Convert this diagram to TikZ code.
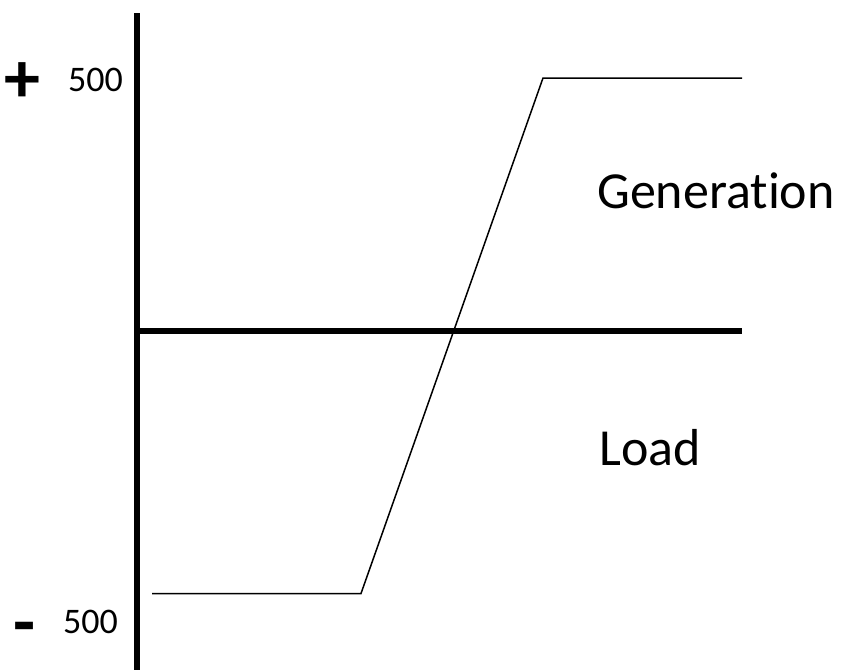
\documentclass[tikz,border=0pt]{standalone}
\usepackage{fontspec}
\setmainfont{Carlito}[Ligatures=NoCommon]
\begin{document}
\begin{tikzpicture}[x=1pt,y=-1pt,
    axis/.style={line width=6pt},
    curve/.style={line width=1.5pt},
    tick/.style={font=\fontsize{36}{40}\selectfont,anchor=base west,inner sep=0pt},
    sign/.style={font=\bfseries\fontsize{72}{80}\selectfont,inner sep=0pt},
    region/.style={font=\fontsize{52}{60}\selectfont,anchor=base west,inner sep=0pt}]
  \useasboundingbox (0,0) rectangle (842,670);
  \draw[axis] (137,13) -- (137,670);
  \draw[axis] (137,330.5) -- (742,330.5);
  \draw[curve] (152,593.5) -- (361,593.5)
       -- (543,78) -- (742,78);
  \node[tick] (top) at (68,91) {500};
  \node[tick] (bottom) at (63,633) {500};
  \node[sign] (plus) at (22,83) {+};
  \node[sign] (minus) at (25,634) {-};
  \node[region] (gen) at (597,208) {Generation};
  \node[region] (load) at (599,465) {Load};
\end{tikzpicture}
\end{document}
